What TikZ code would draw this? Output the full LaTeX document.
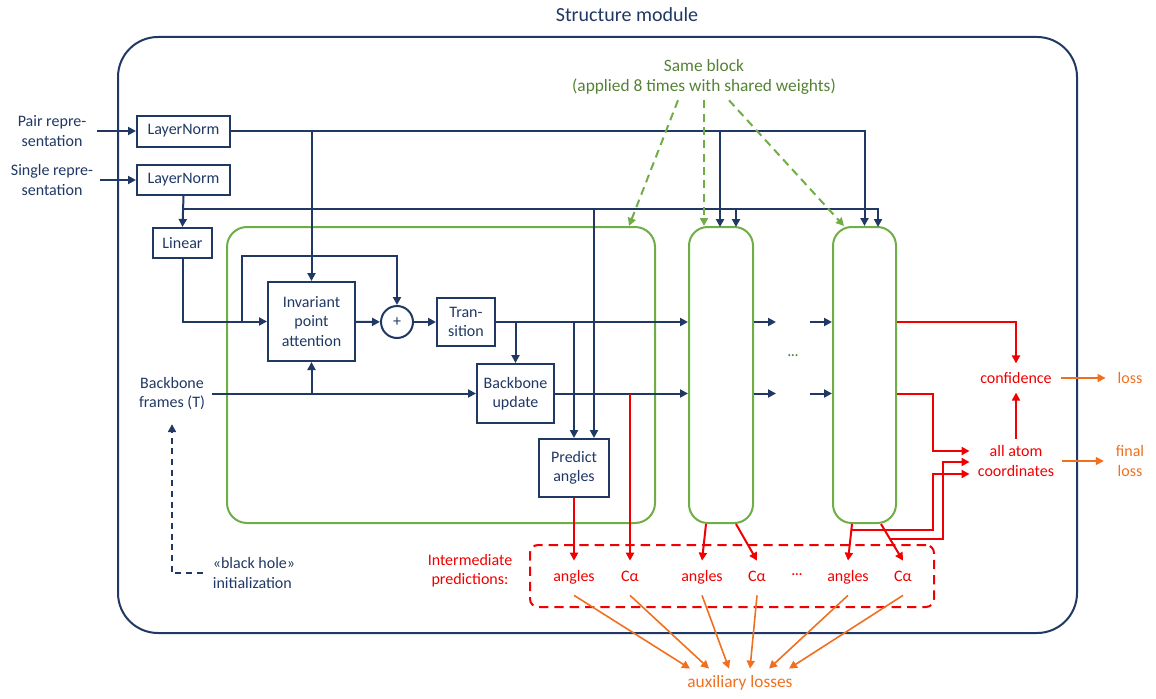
\documentclass[tikz,border=0pt]{standalone}
\usepackage{fontspec}
\setmainfont{Carlito}
\usetikzlibrary{arrows.meta,calc}

\definecolor{navy}{RGB}{31,56,100}
\definecolor{leaf}{RGB}{112,173,71}
\definecolor{leafdark}{RGB}{84,130,53}
\definecolor{alert}{RGB}{240,0,0}
\definecolor{amber}{RGB}{240,112,32}

\tikzset{
  box/.style={draw=navy,text=navy,align=center,inner sep=0pt},
  blk/.style={draw=leaf,rounded corners=14pt,minimum width=48pt,minimum height=222pt,inner sep=0pt},
  txt/.style={text=navy,align=center,inner sep=0pt},
  wire/.style={draw=navy,->},
  redline/.style={draw=alert,->},
  amberline/.style={draw=amber,->,line width=1.2pt},
  pred/.style={text=alert,text height=8.5pt,text depth=3pt,inner xsep=1pt,inner ysep=6.5pt},
}

\begin{document}
\begin{tikzpicture}[x=0.75pt,y=-0.75pt,line width=1.5pt,
    font=\fontsize{12}{14.5}\selectfont,
    >={Triangle[length=6pt,width=6pt]}]
  \useasboundingbox (0,0) rectangle (1156,699);

  % frame and title
  \node[font=\fontsize{15}{18}\selectfont,text=navy] (title) at (627,15) {Structure module};
  \node[draw=navy,rounded corners=30pt,minimum width=719.25pt,minimum height=447pt,inner sep=0pt] (frame) at (597.5,335) {};

  % inputs
  \node[txt,inner xsep=7pt] (pair) at (52,131) {Pair repre-\\sentation};
  \node[txt,inner xsep=4.5pt] (single) at (52,180) {Single repre-\\sentation};
  \node[box,minimum width=69.75pt,minimum height=23.25pt] (ln1) at (183.5,131) {LayerNorm};
  \node[box,minimum width=69.75pt,minimum height=22.5pt] (ln2) at (183.5,180) {LayerNorm};
  \node[box,minimum width=44.25pt,minimum height=22.5pt] (lin) at (182.5,243) {Linear};
  \node[txt,inner xsep=4.5pt,inner ysep=10pt] (frames) at (172,393.5) {Backbone\\frames (T)};
  \node[txt,align=left,inner xsep=7pt] (bh) at (254,573) {«black hole»\\initialization};

  % the three blocks
  \node[blk,minimum width=321pt,rounded corners=15pt] (blk1) at (441,375) {};
  \node[blk] (blk2) at (721,375) {};
  \node[blk,minimum width=47.25pt] (blk3) at (864.5,375) {};
  \node[text=leafdark,align=center,font=\fontsize{13}{15.5}\selectfont] (same) at (704,77) {Same block\\(applied 8 times with shared weights)};
  \node[text=leafdark,font=\bfseries] (dots) at (793,356) {...};

  % inside block 1
  \node[box,minimum width=65.25pt,minimum height=59.25pt] (ipa) at (311.5,321.5) {Invariant\\point\\attention};
  \node[draw=navy,circle,minimum size=24pt,inner sep=0pt,text=navy] (plus) at (397,322) {+};
  \node[box,minimum width=43.5pt,minimum height=36pt] (trans) at (466,322) {Tran-\\sition};
  \node[box,minimum width=57.75pt,minimum height=44.25pt] (bbu) at (515.5,393.5) {Backbone\\update};
  \node[box,minimum width=52.5pt,minimum height=43.5pt] (pang) at (574,468) {Predict\\angles};

  % outputs
  \node[text=alert,inner xsep=6pt,inner ysep=6pt] (conf) at (1016,378) {confidence};
  \node[text=alert,align=center,inner xsep=5.5pt,inner ysep=4.5pt] (allat) at (1016,461) {all atom\\coordinates};
  \node[text=amber] (loss) at (1130,378) {loss};
  \node[text=amber,align=center] (floss) at (1130,461) {final\\loss};

  \node[draw=alert,dash pattern=on 7pt off 4.5pt,rounded corners=6pt,minimum width=303pt,minimum height=46.5pt,inner sep=0pt] (predbox) at (732,576) {};
  \node[text=alert,align=center] (inter) at (470,571) {Intermediate\\predictions:};
  \node[pred] (ang1) at (574,578) {angles};
  \node[pred] (ca1) at (630,578) {Cα};
  \node[pred] (ang2) at (702,578) {angles};
  \node[pred] (ca2) at (757,578) {Cα};
  \node[text=alert,font=\bfseries] (pdots) at (797,575) {...};
  \node[pred] (ang3) at (848,578) {angles};
  \node[pred] (ca3) at (903,578) {Cα};
  \node[text=amber,inner ysep=4.5pt,font=\fontsize{13}{15.5}\selectfont] (aux) at (740,683) {auxiliary losses};

  % inlets and bus points
  \coordinate (in2a) at (720,227);
  \coordinate (in2b) at (736,227);
  \coordinate (in3b) at (878,227);
  \coordinate (sbus) at (183.5,209);
  \coordinate (skip) at (242,256);
  \coordinate (pin) at ($(pang.north)+(20,0)$);
  \coordinate (gapL) at (776,0);
  \coordinate (gapR) at (810,0);
  \coordinate (xa) at (933,0);
  \coordinate (xb) at (943,0);
  \coordinate (inA) at ($(allat.west)+(0,-10)$);
  \coordinate (inB) at ($(allat.west)+(0,1)$);
  \coordinate (inC) at ($(allat.west)+(0,13)$);

  % pair and single representation
  \draw[wire] (pair.east) -- (ln1.west);
  \draw[wire] (single.east) -- (ln2.west);
  \draw[wire] (ln1.east) -| (blk3.north);
  \draw[wire] (ipa.north |- ln1.east) -- (ipa.north);
  \draw[wire] (in2a |- ln1.east) -- (in2a);
  \draw[wire] (ln2.south) -- (lin.north);
  \draw[wire] (sbus) -| (in3b);
  \draw[wire] (in2b |- sbus) -- (in2b);
  \draw[wire] (pin |- sbus) -- (pin);

  % block 1
  \draw[wire] (lin.south) |- (ipa.west);
  \draw[wire] (skip |- ipa.west) |- (plus.north |- skip) -- (plus.north);
  \draw[wire] (ipa) -- (plus);
  \draw[wire] (plus) -- (trans);
  \draw[wire] (trans.east) -- (trans.east -| blk2.west);
  \draw[wire] (bbu.north |- trans.east) -- (bbu.north);
  \draw[wire] (pang.north |- trans.east) -- (pang.north);
  \draw[wire] (frames.east) -- (bbu.west);
  \draw[wire] (ipa.south |- bbu.west) -- (ipa.south);
  \draw[wire] (bbu.east) -- (bbu.east -| blk2.west);
  \draw[navy,->,dash pattern=on 4.5pt off 3.5pt] (bh.west) -| (frames.south);

  % between blocks
  \foreach \r in {trans,bbu}{
    \draw[wire] (blk2.east |- \r.east) -- (gapL |- \r.east);
    \draw[wire] (gapR |- \r.east) -- (blk3.west |- \r.east);
  }

  % same block
  \draw[leaf,->,dash pattern=on 6pt off 4pt] ($(same.south)+(-26,0)$) -- ($(blk1.north east)+(-27,0)$);
  \draw[leaf,->,dash pattern=on 6pt off 4pt] (same.south) -- (same.south |- blk2.north);
  \draw[leaf,->,dash pattern=on 6pt off 4pt] ($(same.south)+(25,0)$) -- ($(blk3.north west)+(12,0)$);

  % intermediate predictions
  \draw[redline] (pang.south) -- (ang1.north);
  \draw[redline] (ca1.north |- bbu.east) -- (ca1.north);
  \draw[redline] ($(blk2.south west)+(18,0)$) -- (ang2.north);
  \draw[redline] ($(blk2.south east)+(-18,0)$) -- (ca2.north);
  \draw[redline] ($(blk3.south west)+(20,0)$) coordinate (b3l) -- (ang3.north);
  \draw[redline] ($(blk3.south east)+(-16,0)$) coordinate (b3r) -- (ca3.north);

  % final outputs
  \draw[redline] (blk3.east |- trans.east) -| (conf.north);
  \draw[redline] (blk3.east |- bbu.east) -| (xa |- inA) -- (inA);
  \draw[redline] ($(b3l)+(0,6)$) -| (xa |- inC) -- (inC);
  \draw[redline] ($(b3r)!0.4!(ca3.north)$) -| (xb |- inB) -- (inB);
  \draw[redline] (allat.north) -- (conf.south);
  \draw[amberline,shorten >=5pt] (conf.east) -- (loss.west);
  \draw[amberline,shorten >=5pt] (allat.east) -- (floss.west);

  % auxiliary losses
  \foreach \s/\dx in {ang1/-50,ca1/-31,ang2/-11,ca2/10,ang3/29,ca3/49}
    \draw[amberline] (\s.south) -- ($(aux.north)+(\dx,0)$);
\end{tikzpicture}
\end{document}
